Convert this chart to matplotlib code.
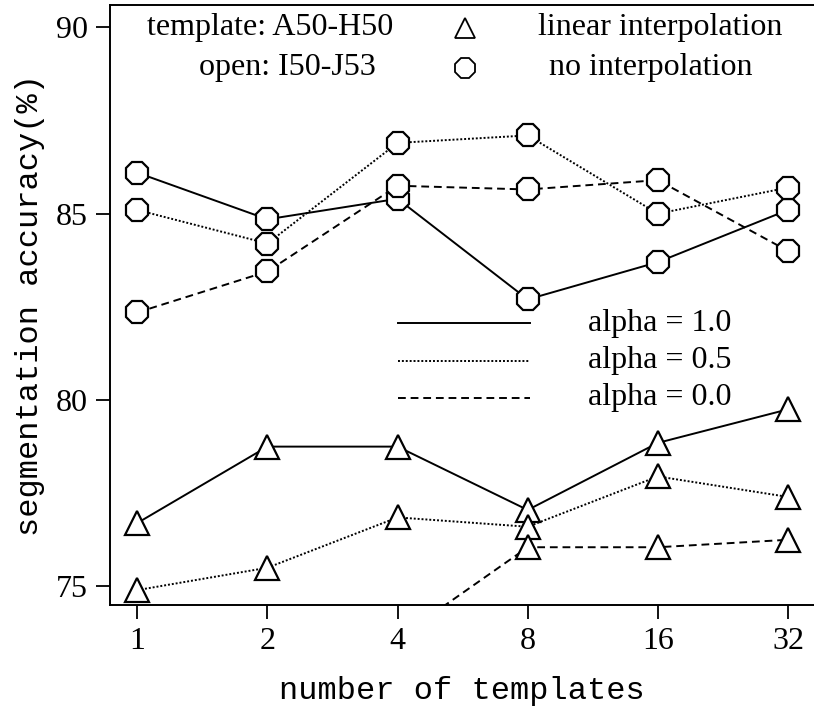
import matplotlib
matplotlib.use("Agg")
from matplotlib import pyplot as plt
import numpy as np

templates = ["1", "2", "4", "8", "16", "32"]

# no interpolation (octagon markers)
noint_a10 = [86.1, 84.85, 85.4, 82.7, 83.7, 85.1]
noint_a05 = [85.1, 84.2, 86.9, 87.1, 85.0, 85.7]
noint_a00 = [82.35, 83.45, 85.75, 85.65, 85.9, 84.0]

# linear interpolation (triangle markers)
lin_a10 = [76.7, 78.75, 78.75, 77.05, 78.85, 79.75]
lin_a05 = [74.9, 75.5, 76.85, 76.6, 77.95, 77.4]
lin_a00 = [73.0, 73.3, 73.6, 76.05, 76.05, 76.25]

yticks = [75, 80, 85, 90]

serif = "Liberation Serif"
mono = "Liberation Mono"
fs = 23

fig = plt.figure(figsize=(8.14, 7.12), dpi=100)
ax = fig.add_axes([110 / 814, 1 - 605 / 712, 1 - 110 / 814, 600 / 712])

x = np.arange(len(templates))
styles = {"solid": "-", "dotted": (0, (1, 1)), "dashed": (0, (4, 2.5))}

for vals, ls in [(noint_a10, styles["solid"]), (noint_a05, styles["dotted"]),
                 (noint_a00, styles["dashed"])]:
    ax.plot(x, vals, linestyle=ls, color="black", lw=1.4, marker="8",
            markersize=17, markerfacecolor="white", markeredgecolor="black",
            markeredgewidth=1.6)

for vals, ls in [(lin_a10, styles["solid"]), (lin_a05, styles["dotted"]),
                 (lin_a00, styles["dashed"])]:
    ax.plot(x, vals, linestyle=ls, color="black", lw=1.4, marker="^",
            markersize=17, markerfacecolor="white", markeredgecolor="black",
            markeredgewidth=1.6)

ax.set_xlim(-0.21, 5.2)
ax.set_ylim(74.5, 90.6)
ax.set_xticks(x)
ax.set_xticklabels(templates, fontfamily=serif, fontsize=fs)
ax.set_yticks(yticks)
ax.set_yticklabels([str(t) for t in yticks], fontfamily=serif, fontsize=fs)
ax.tick_params(direction="out", length=10, width=1.3, pad=6)
ax.spines["right"].set_visible(False)
for s in ["left", "bottom", "top"]:
    ax.spines[s].set_linewidth(1.4)

ax.set_xlabel("number of templates", fontfamily=mono, fontsize=fs, labelpad=14)
ax.set_ylabel("segmentation accuracy(%)", fontfamily=mono, fontsize=fs, labelpad=8)

# top key
ax.text(0.0526, 0.962, "template: A50-H50", transform=ax.transAxes, ha="left",
        va="center", fontfamily=serif, fontsize=fs)
ax.text(0.126, 0.895, "open: I50-J53", transform=ax.transAxes, ha="left",
        va="center", fontfamily=serif, fontsize=fs)
ax.plot([0.504], [0.962], transform=ax.transAxes, marker="^", markersize=14,
        markerfacecolor="white", markeredgecolor="black", markeredgewidth=1.3,
        clip_on=False)
ax.plot([0.504], [0.895], transform=ax.transAxes, marker="8", markersize=15,
        markerfacecolor="white", markeredgecolor="black", markeredgewidth=1.3,
        clip_on=False)
ax.text(0.608, 0.962, "linear interpolation", transform=ax.transAxes, ha="left",
        va="center", fontfamily=serif, fontsize=fs)
ax.text(0.624, 0.895, "no interpolation", transform=ax.transAxes, ha="left",
        va="center", fontfamily=serif, fontsize=fs)

# alpha key
alpha_rows = [(styles["solid"], "alpha = 1.0", 0.47),
              (styles["dotted"], "alpha = 0.5", 0.407),
              (styles["dashed"], "alpha = 0.0", 0.345)]
for ls, lab, yy in alpha_rows:
    ax.plot([0.409, 0.597], [yy, yy], transform=ax.transAxes, color="black",
            linestyle=ls, lw=1.4)
    ax.text(0.679, yy, lab, transform=ax.transAxes, ha="left", va="center",
            fontfamily=serif, fontsize=fs)

fig.savefig("out.png", dpi=100)
